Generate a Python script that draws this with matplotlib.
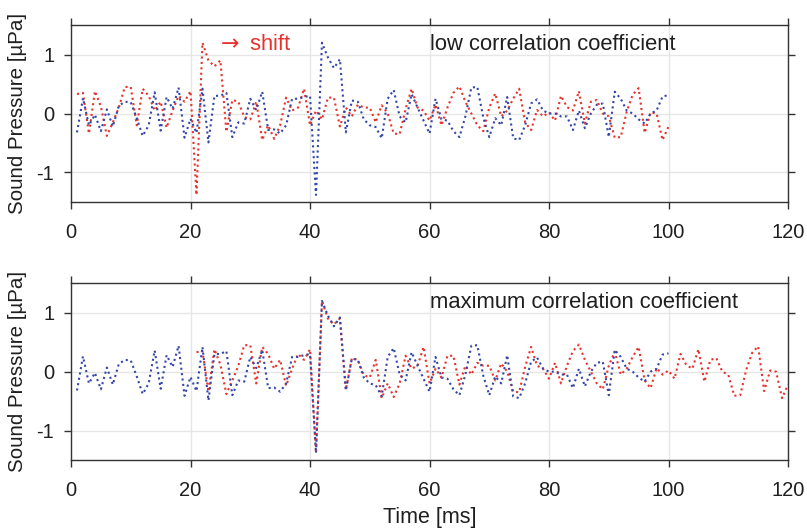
import numpy as np
import matplotlib

matplotlib.use("Agg")

import matplotlib.pyplot as plt

plt.rcParams["font.family"] = ["Liberation Sans", "DejaVu Sans"]
plt.rcParams["axes.unicode_minus"] = False

# sample times in ms (1 kHz)
time_ms = np.arange(1, 101)

# reference (blue) signal, pulse at ~41 ms
blue_signal = [
    -0.32, 0.26, -0.20, -0.02, -0.30, 0.07, -0.22, 0.13, 0.20, 0.19,
    -0.08, -0.38, -0.20, 0.36, -0.29, 0.28, 0.08, 0.44, -0.41, -0.09,
    -0.33, 0.42, -0.49, 0.30, 0.30, 0.35, -0.40, -0.15, -0.17, 0.25,
    0.06, 0.37, -0.28, -0.27, -0.34, -0.20, 0.25, 0.25, 0.28, 0.30,
    -1.38, 1.20, 0.95, 0.77, 0.92, -0.32, 0.22, 0.20, -0.10, -0.20,
    -0.23, -0.42, 0.25, 0.40, -0.05, -0.15, 0.33, 0.10, -0.12, -0.34,
    0.25, -0.10, -0.12, -0.30, -0.40, -0.05, 0.44, 0.45, -0.07, -0.40,
    -0.08, -0.20, 0.28, -0.42, -0.45, -0.20, 0.17, 0.24, 0.05, 0.00,
    0.00, -0.05, -0.05, -0.28, 0.05, -0.25, 0.00, 0.15, 0.17, -0.40,
    0.37, 0.25, 0.05, 0.00, -0.10, -0.17, 0.00, 0.05, 0.29, 0.31,
]

# second (red) signal, pulse at ~21 ms
red_signal = [
    0.33, 0.35, -0.34, 0.38, 0.12, -0.38, -0.15, 0.10, 0.45, 0.45,
    -0.20, 0.42, 0.30, 0.05, 0.20, -0.24, 0.05, 0.30, 0.20, 0.38,
    -1.38, 1.20, 0.90, 0.80, 0.90, -0.31, 0.23, 0.20, -0.06, -0.10,
    0.20, -0.45, -0.20, -0.43, -0.20, 0.27, 0.05, 0.10, 0.42, -0.20,
    0.05, -0.10, 0.27, 0.27, -0.22, 0.10, -0.05, 0.15, 0.10, 0.10,
    -0.15, 0.14, 0.00, -0.34, -0.35, 0.08, 0.42, 0.10, 0.05, -0.12,
    0.15, -0.20, 0.10, 0.35, 0.46, 0.20, 0.00, -0.20, -0.30, 0.10,
    0.34, -0.05, 0.05, 0.25, 0.42, -0.15, -0.28, 0.06, -0.05, 0.02,
    -0.12, 0.30, 0.11, 0.05, 0.38, -0.17, 0.20, 0.23, 0.00, -0.05,
    -0.41, -0.40, 0.03, 0.32, 0.43, -0.33, 0.02, 0.00, -0.45, -0.22,
]

shift_ms = 20
x_ticks = [0, 20, 40, 60, 80, 100, 120]
y_ticks = [-1, 0, 1]
panel_notes = ["low correlation coefficient", "maximum correlation coefficient"]

RED = "#e8322b"
BLUE = "#3446a8"
INK = "#1f1f1f"
DOTS = (0, (1, 1.6))

fig = plt.figure(figsize=(8.07, 5.31), dpi=100)
ax_top = fig.add_axes([0.088, 0.6196, 0.8885, 0.3333])
ax_bot = fig.add_axes([0.088, 0.1337, 0.8885, 0.3328])

offsets = [0, shift_ms]
for ax, offset, note in zip([ax_top, ax_bot], offsets, panel_notes):
    ax.plot(time_ms + offset, red_signal, color=RED, lw=1.5, ls=DOTS)
    ax.plot(time_ms, blue_signal, color=BLUE, lw=1.5, ls=DOTS)
    ax.set_xlim(0, 120)
    ax.set_ylim(-1.5, 1.5)
    ax.set_xticks(x_ticks)
    ax.set_yticks(y_ticks)
    ax.grid(True, color="#e6e6e6", lw=1.0)
    ax.set_axisbelow(True)
    ax.tick_params(direction="out", length=5, width=1, colors="#333333",
                   labelcolor=INK, labelsize=14.5, top=True, right=True, pad=10)
    ax.tick_params(axis="y", pad=7)
    for spine in ax.spines.values():
        spine.set_color("#333333")
        spine.set_linewidth(1.0)
    ax.set_ylabel("Sound Pressure [µPa]", fontsize=14.8, color=INK, labelpad=7)
    ax.text(60.1, 1.17, note, fontsize=15.8, color=INK, va="center", ha="left")

ax_top.text(24.2, 1.17, r"$\rightarrow$ shift", fontsize=15.8, color=RED,
            va="center", ha="left")
ax_bot.set_xlabel("Time [ms]", fontsize=15.5, color=INK, labelpad=5)

fig.savefig("out.png", dpi=100)
